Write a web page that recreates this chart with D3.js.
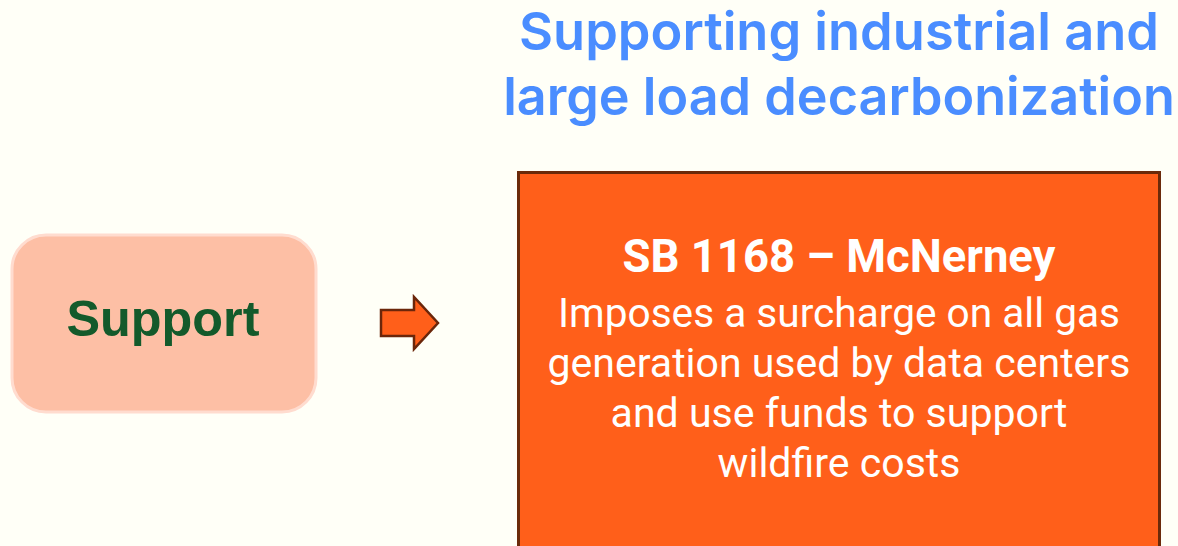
<!DOCTYPE html>
<html><head><meta charset="utf-8">
<script src="https://cdn.jsdelivr.net/npm/d3@7"></script>
<style>html,body{margin:0;padding:0;background:#fffff7;}svg{display:block;}</style>
</head><body>
<svg id="c" width="1178" height="546"></svg>
<script>
const titleLines = ["Supporting industrial and", "large load decarbonization"];
const stanceLabel = ["Support"];
const billTitle = ["SB 1168 – McNerney"];
const billBody = ["Imposes a surcharge on all gas", "generation used by data centers", "and use funds to support", "wildfire costs"];

const W = 1178, H = 546;
const svg = d3.select("#c");
svg.append("rect").attr("width", W).attr("height", H).attr("fill", "#fffff7");

function fitText(sel, target) {
  const w = sel.node().getComputedTextLength();
  const fs = parseFloat(sel.attr("font-size"));
  sel.attr("font-size", fs * target / w);
}

// Title
const tY = d3.scaleLinear().domain([0, 1]).range([50, 115]);
const tWidths = [640, 672];
titleLines.forEach((t, i) => {
  const s = svg.append("text").attr("x", 839).attr("y", tY(i))
    .attr("text-anchor", "middle").attr("font-family", "Inter, Roboto, sans-serif")
    .attr("font-weight", 600).attr("font-size", 48).attr("fill", "#4a8dff").text(t);
  fitText(s, tWidths[i]);
});

// Support box
svg.append("rect").attr("x", 12).attr("y", 235).attr("width", 304).attr("height", 177)
  .attr("rx", 34).attr("fill", "#fdbfa5").attr("stroke", "#ffdccf").attr("stroke-width", 3);
const sp = svg.append("text").attr("x", 163).attr("y", 336).attr("text-anchor", "middle")
  .attr("font-family", "Liberation Sans, Arial, sans-serif").attr("font-weight", 700)
  .attr("font-size", 44).attr("fill", "#135a2b").text(stanceLabel[0]);
fitText(sp, 193);

// Arrow
const ax = 381, ay = 323;
const arrowPts = [[0,-13],[33,-13],[33,-26],[57,0],[33,26],[33,13],[0,13]];
svg.append("path").attr("d", d3.line()(arrowPts.map(p => [ax + p[0], ay + p[1]])) + "Z")
  .attr("fill", "#ff5f1a").attr("stroke", "#6b260a").attr("stroke-width", 2.5).attr("stroke-linejoin", "miter");

// Bill box
svg.append("rect").attr("x", 518.5).attr("y", 172.5).attr("width", 641).attr("height", 380)
  .attr("fill", "#ff5f1a").attr("stroke", "#6b2a0a").attr("stroke-width", 3);

const bt = svg.append("text").attr("x", 839).attr("y", 272).attr("text-anchor", "middle")
  .attr("font-family", "Roboto, sans-serif").attr("font-weight", 700)
  .attr("font-size", 38).attr("fill", "#ffffff").text(billTitle[0]);
fitText(bt, 433);

const bY = d3.scaleLinear().domain([0, 1]).range([327, 377]);
const bodyWidths = [562, 583, 457, 243];
billBody.forEach((t, i) => {
  const s = svg.append("text").attr("x", 839).attr("y", bY(i)).attr("text-anchor", "middle")
    .attr("font-family", "Roboto, sans-serif").attr("font-weight", 400)
    .attr("font-size", 36).attr("fill", "#ffffff").text(t);
  fitText(s, bodyWidths[i]);
});
</script>
</body></html>
